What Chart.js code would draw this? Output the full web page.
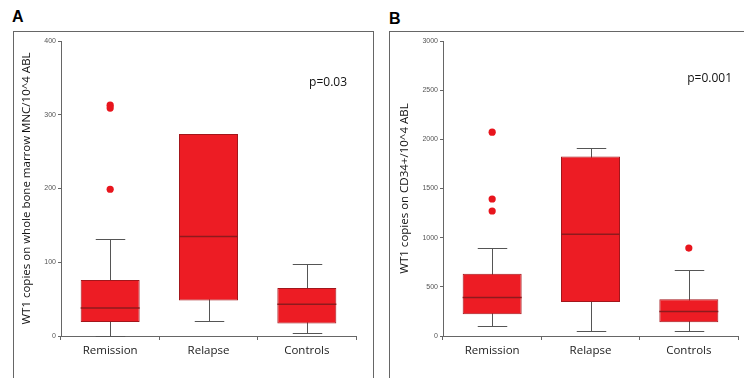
<!DOCTYPE html>
<html>
<head>
<meta charset="utf-8">
<script src="https://cdn.jsdelivr.net/npm/chart.js@4.4.0/dist/chart.umd.min.js"></script>
<style>
  body { margin: 0; width: 744px; height: 378px; background: #fff; position: relative; overflow: hidden; }
  .panel { position: absolute; top: 31px; height: 347px; border: 1px solid #666; border-bottom: none; box-sizing: border-box; }
  #panelA { left: 13px; width: 361px; }
  #panelB { left: 389px; width: 356px; border-right: none; }
  .letter { position: absolute; font: bold 16px "Liberation Sans", Arial, sans-serif; line-height: 16px; color: #000; }
  canvas { position: absolute; left: 0; top: 0; }
</style>
</head>
<body>
<div class="letter" style="left:12px; top:9px;">A</div>
<div class="letter" style="left:389px; top:11px;">B</div>
<div class="panel" id="panelA"><canvas id="chartA" width="359" height="346"></canvas></div>
<div class="panel" id="panelB"><canvas id="chartB" width="355" height="346"></canvas></div>
<script>
// groups
const categories = ['Remission', 'Relapse', 'Controls'];

// Panel A - whole bone marrow MNC
const lowA = [0, 21, 4];
const q1A = [19, 48, 17];
const medianA = [38, 135, 43];
const q3A = [76, 274, 65];
const highA = [132, 274, 97];
const outliersA = [[313, 309, 199], [], []];
const ticksA = [0, 100, 200, 300, 400];

// Panel B - CD34+
const lowB = [105, 54, 54];
const q1B = [221, 347, 139];
const medianB = [391, 1036, 248];
const q3B = [632, 1825, 374];
const highB = [890, 1916, 676];
const outliersB = [[2073, 1393, 1271], [], [894]];
const ticksB = [0, 500, 1000, 1500, 2000, 2500, 3000];

const RED = '#ED1C24';

// whiskers, caps and medians drawn through the chart's scales
const boxParts = {
  id: 'boxParts',
  beforeDatasetsDraw(chart) {
    const o = chart.options.plugins.boxParts;
    const { ctx, scales: { x, y } } = chart;
    const bars = chart.getDatasetMeta(0).data;
    ctx.save();
    ctx.strokeStyle = '#555';
    ctx.lineWidth = 1;
    o.low.forEach((lo, i) => {
      const cx = Math.round(x.getPixelForValue(i)) + 0.5;
      const half = bars[i].width / 4;
      const yl = Math.round(y.getPixelForValue(lo)) + 0.5;
      const yh = Math.round(y.getPixelForValue(o.high[i])) + 0.5;
      ctx.beginPath();
      ctx.moveTo(cx, yl); ctx.lineTo(cx, yh);
      ctx.moveTo(cx - half, yl); ctx.lineTo(cx + half, yl);
      ctx.moveTo(cx - half, yh); ctx.lineTo(cx + half, yh);
      ctx.stroke();
    });
    ctx.restore();
  },
  afterDatasetsDraw(chart) {
    const o = chart.options.plugins.boxParts;
    const { ctx, chartArea, scales: { x, y } } = chart;
    const bars = chart.getDatasetMeta(0).data;
    ctx.save();
    ctx.strokeStyle = '#8E1A1D';
    ctx.lineWidth = 1.5;
    o.median.forEach((m, i) => {
      const cx = x.getPixelForValue(i);
      const half = bars[i].width / 2;
      const ym = y.getPixelForValue(m);
      ctx.beginPath();
      ctx.moveTo(cx - half, ym); ctx.lineTo(cx + half, ym);
      ctx.stroke();
    });
    ctx.fillStyle = '#111';
    ctx.font = '12px "Open Sans", sans-serif';
    ctx.textAlign = 'right';
    ctx.textBaseline = 'middle';
    ctx.fillText(o.pText, chartArea.right - o.pRight, y.getPixelForValue(o.pAt));
    ctx.restore();
  }
};

function makeChart(id, d) {
  const outlierPoints = [];
  d.outliers.forEach((list, i) => list.forEach(v => outlierPoints.push({ x: categories[i], y: v })));
  return new Chart(document.getElementById(id), {
    type: 'bar',
    data: {
      labels: categories,
      datasets: [{
        data: d.q1.map((v, i) => [v, d.q3[i]]),
        backgroundColor: RED,
        borderColor: '#A3161B',
        borderWidth: 1,
        borderSkipped: false,
        barPercentage: 0.6,
        categoryPercentage: 1
      }, {
        type: 'line',
        data: outlierPoints,
        showLine: false,
        pointRadius: 3.6,
        pointBackgroundColor: '#E8151D',
        pointBorderWidth: 0
      }]
    },
    plugins: [boxParts],
    options: {
      responsive: false,
      animation: false,
      layout: { padding: { top: 9, right: d.padRight, left: 0, bottom: 0 } },
      plugins: {
        legend: { display: false },
        tooltip: { enabled: false },
        boxParts: { low: d.low, high: d.high, median: d.median, pText: d.pText, pAt: d.pAt, pRight: d.pRight }
      },
      scales: {
        x: {
          afterFit: s => { s.height = 42; },
          border: { color: '#666', width: 1 },
          grid: { drawOnChartArea: false, drawTicks: true, tickLength: 4, color: '#666' },
          ticks: { color: '#222', padding: 4, font: { family: '"Open Sans", sans-serif', size: 11.5 } }
        },
        y: {
          min: 0,
          max: d.ticks[d.ticks.length - 1],
          afterFit: s => { s.width = d.yWidth; },
          afterBuildTicks: s => { s.ticks = d.ticks.map(v => ({ value: v })); },
          border: { color: '#666', width: 1 },
          grid: { drawOnChartArea: false, drawTicks: true, tickLength: 3, color: '#666' },
          ticks: {
            color: '#555', padding: 2,
            font: { family: '"Liberation Sans", Arial, sans-serif', size: 7 },
            callback: v => String(v)
          },
          title: {
            display: true,
            text: d.title,
            color: '#111',
            padding: { top: d.titlePad, bottom: 0 },
            font: { family: '"Open Sans", sans-serif', size: 11.5 }
          }
        }
      }
    }
  });
}

makeChart('chartA', {
  low: lowA, q1: q1A, median: medianA, q3: q3A, high: highA, outliers: outliersA, ticks: ticksA,
  title: 'WT1 copies on whole bone marrow MNC/10^4 ABL',
  pText: 'p=0.03', pAt: 343, pRight: 9,
  yWidth: 47, padRight: 17, titlePad: 6
});

makeChart('chartB', {
  low: lowB, q1: q1B, median: medianB, q3: q3B, high: highB, outliers: outliersB, ticks: ticksB,
  title: 'WT1 copies on CD34+/10^4 ABL',
  pText: 'p=0.001', pAt: 2620, pRight: 6,
  yWidth: 53, padRight: 7, titlePad: 8
});
</script>
</body>
</html>
